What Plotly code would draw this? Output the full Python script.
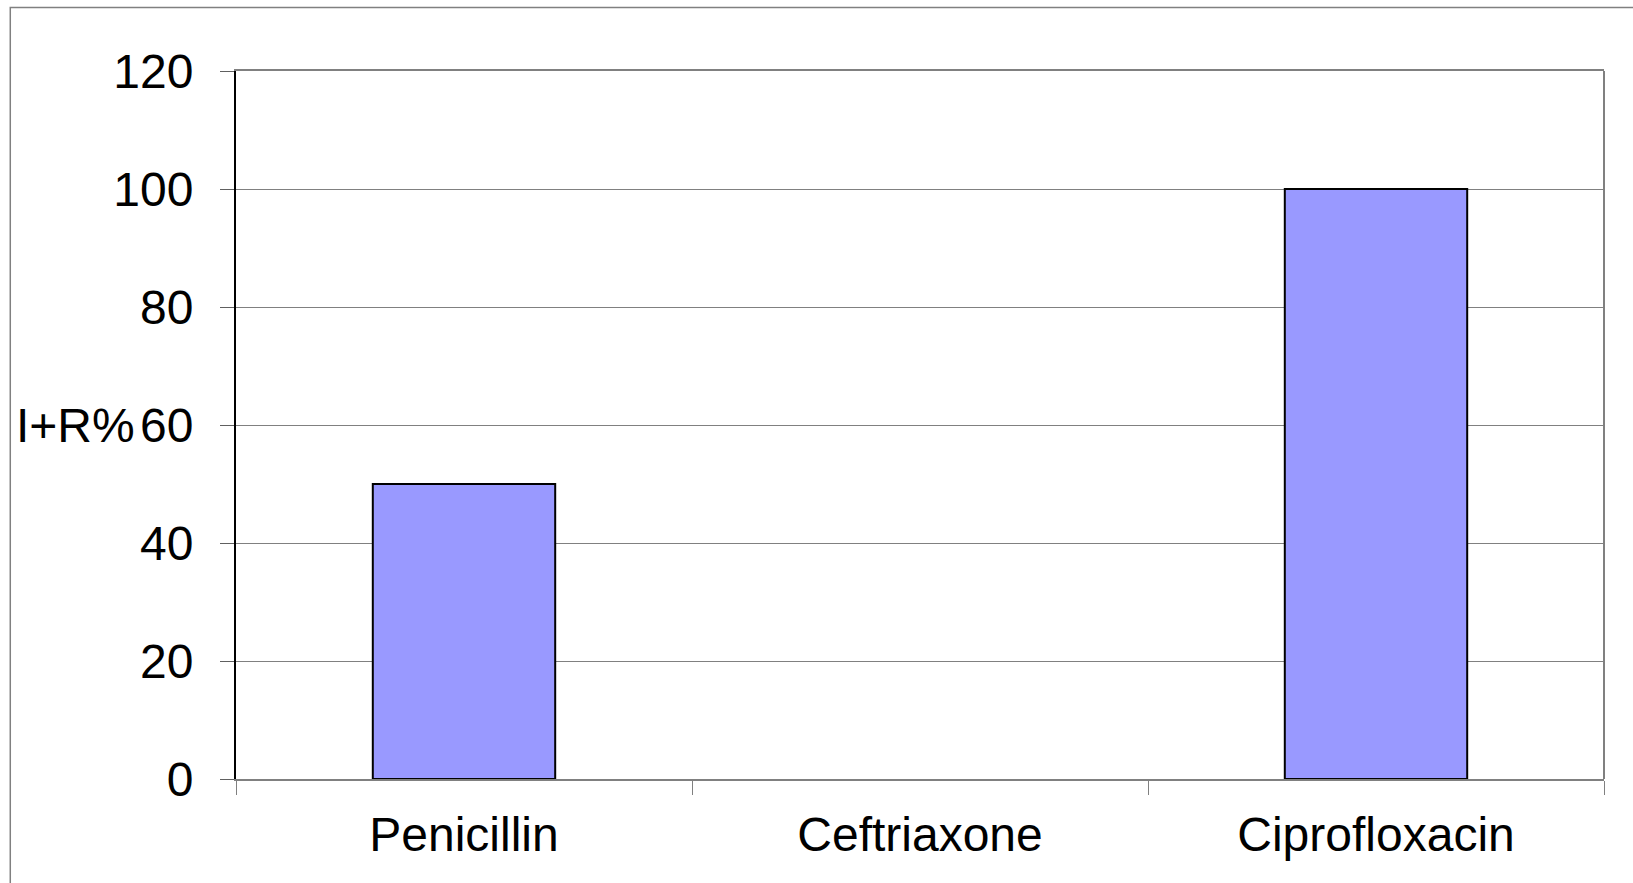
import plotly.graph_objects as go

categories = ["Penicillin", "Ceftriaxone", "Ciprofloxacin"]
values = [50, 0, 100]
y_ticks = [0, 20, 40, 60, 80, 100, 120]
y_title = "I+R%"

FONT = "Liberation Sans, Arial, sans-serif"
FS = 48

# zero-height bars have no visible outline in the reference
outline_colors = ["black" if v > 0 else "rgba(0,0,0,0)" for v in values]

fig = go.Figure()
fig.add_trace(go.Bar(
    x=categories, y=values,
    marker=dict(color="#9999FF", line=dict(color=outline_colors, width=2)),
    showlegend=False, hoverinfo="x+y",
))

fig.update_layout(
    width=1633, height=883,
    margin=dict(l=236, r=29, t=71, b=104),
    paper_bgcolor="white", plot_bgcolor="white",
    bargap=0.6,
    font=dict(family=FONT, size=FS, color="black"),
    xaxis=dict(
        type="category", showline=True, linecolor="#808080", linewidth=2, mirror=True,
        ticks="outside", tickson="boundaries", ticklen=14, tickcolor="#808080", tickwidth=1,
        showgrid=False, tickfont=dict(size=FS, family=FONT, color="black"),
        ticklabelstandoff=12,
    ),
    yaxis=dict(
        range=[0, 120], tickvals=y_ticks, showline=True, linecolor="black", linewidth=2,
        ticks="outside", ticklen=14, tickcolor="#606060", tickwidth=1,
        showgrid=True, gridcolor="#808080", gridwidth=1, zeroline=False,
        tickfont=dict(size=FS, family=FONT, color="black"),
        ticklabelstandoff=17,
    ),
    shapes=[
        dict(type="line", xref="paper", yref="paper", x0=1, x1=1, y0=0, y1=1,
             line=dict(color="#808080", width=2)),
        dict(type="rect", xref="paper", yref="paper", x0=-0.165, x1=1.05, y0=-0.2, y1=1.0897,
             line=dict(color="#808080", width=1.5), fillcolor="rgba(0,0,0,0)", layer="below"),
    ],
    annotations=[
        dict(text=y_title, xref="paper", yref="y", x=-0.0722, y=60, xanchor="right",
             yanchor="middle", showarrow=False, font=dict(size=FS, family=FONT, color="black")),
    ],
)

fig.write_html("out.html", config={"displayModeBar": False},
               post_script="document.body.style.margin='0';")
